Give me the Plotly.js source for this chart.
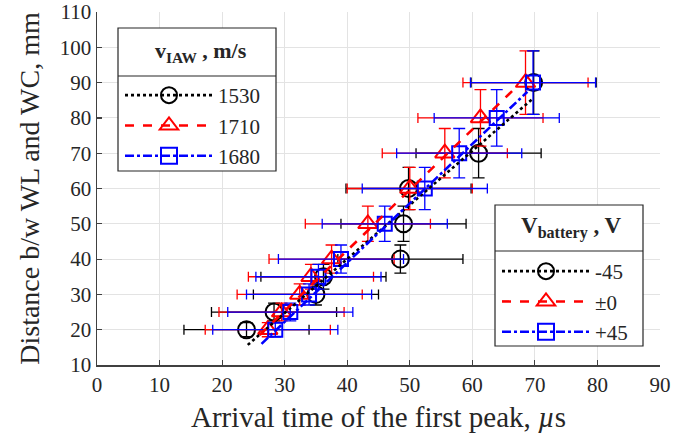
<!DOCTYPE html>
<html>
<head>
<meta charset="utf-8">
<script src="https://cdn.plot.ly/plotly-3.0.1.min.js"></script>
<style>html,body{margin:0;padding:0;background:#fff;}#chart{width:678px;height:440px;}</style>
</head>
<body>
<div id="chart"></div>
<script>
// ---- data ----
const yBlack = [20, 25, 30, 35, 40, 50, 60, 70, 90];
const xBlack = [23.9, 28.3, 35.0, 36.2, 48.5, 49.0, 49.8, 61.0, 69.8];
const xErrBlack = [10, 10, 10, 10, 10, 10, 10, 10, 10];
const yErrBlack = [2, 2.5, 3, 3.5, 4, 5, 6, 7, 9];

const yRed = [20, 25, 30, 35, 40, 50, 60, 70, 80, 90];
const xRed = [27.3, 29.5, 32.4, 34.2, 37.5, 43.3, 50.0, 55.6, 61.3, 68.5];
const xErrRed = [10, 10, 10, 10, 10, 10, 10, 10, 10, 10];
const yErrRed = [2, 2.5, 3, 3.5, 4, 5, 6, 7, 8, 9];

const yBlue = [20, 25, 30, 35, 40, 50, 60, 70, 80, 90];
const xBlue = [28.5, 30.9, 33.9, 35.4, 39.0, 46.0, 52.4, 57.9, 63.9, 69.7];
const xErrBlue = [10, 10, 10, 10, 10, 10, 10, 10, 10, 10];
const yErrBlue = [2, 2.5, 3, 3.5, 4, 5, 6, 7, 8, 9];

// fitted lines (end points)
const fitBlackX = [24.1, 69.7], fitBlackY = [15.7, 85.5];
const fitRedX = [26.0, 67.3], fitRedY = [18.5, 89.2];
const fitBlueX = [26.3, 68.8], fitBlueY = [16.0, 87.4];

const speedLabels = ['1530', '1710', '1680'];
const voltLabels = ['-45', '\u00b10', '+45'];

const xTicks = [0, 10, 20, 30, 40, 50, 60, 70, 80, 90];
const yTicks = [10, 20, 30, 40, 50, 60, 70, 80, 90, 100, 110];

// ---- styles ----
const FONT = 'Liberation Serif';
const BLK = '#000000', RED = '#ff0000', BLU = '#0000ff';
const series = [
  {x: xBlack, y: yBlack, ex: xErrBlack, ey: yErrBlack, c: BLK, sym: 'circle-open', size: 17, dash: 'dot', fx: fitBlackX, fy: fitBlackY},
  {x: xRed, y: yRed, ex: xErrRed, ey: yErrRed, c: RED, sym: 'triangle-up-open', size: 17, dash: 'dash', fx: fitRedX, fy: fitRedY},
  {x: xBlue, y: yBlue, ex: xErrBlue, ey: yErrBlue, c: BLU, sym: 'square-open', size: 14, dash: 'dashdot', fx: fitBlueX, fy: fitBlueY}
];

const traces = [];
series.forEach(s => {
  traces.push({
    type: 'scatter', mode: 'markers', x: s.x, y: s.y, showlegend: false, hoverinfo: 'skip',
    marker: {symbol: s.sym, size: s.size, color: s.c, line: {color: s.c, width: 2}},
    error_x: {type: 'data', array: s.ex, color: s.c, thickness: 1.3, width: 5},
    error_y: {type: 'data', array: s.ey, color: s.c, thickness: 1.3, width: 6}
  });
});
series.forEach(s => {
  traces.push({
    type: 'scatter', mode: 'lines', x: s.fx, y: s.fy, showlegend: false, hoverinfo: 'skip',
    line: {color: s.c, width: 2.6, dash: s.dash}
  });
});
// legend entries
series.forEach((s, i) => {
  traces.push({
    type: 'scatter', mode: 'lines+markers', x: [null], y: [null], name: speedLabels[i], legend: 'legend',
    marker: {symbol: s.sym, size: s.size + 6, color: s.c, line: {color: s.c, width: 2}},
    line: {color: s.c, width: 2.6, dash: s.dash}
  });
});
series.forEach((s, i) => {
  traces.push({
    type: 'scatter', mode: 'lines+markers', x: [null], y: [null], name: voltLabels[i], legend: 'legend2',
    marker: {symbol: s.sym, size: s.size + 6, color: s.c, line: {color: s.c, width: 2}},
    line: {color: s.c, width: 2.6, dash: s.dash}
  });
});

// plot area: left 97, right 660, top 12, bottom 365
const L = 97, R = 660, T = 12, B = 365, W = 678, H = 440;
const px = v => (v - L) / (R - L);
const py = v => (B - v) / (B - T);

const layout = {
  width: W, height: H,
  margin: {l: L, r: W - R, t: T, b: H - B},
  paper_bgcolor: '#fff', plot_bgcolor: '#fff',
  font: {family: FONT, color: '#262626'},
  xaxis: {
    range: [0, 90], tickvals: xTicks, ticktext: xTicks.map(String),
    ticks: 'inside', ticklen: 5, tickwidth: 1.2, tickcolor: '#404040',
    showline: true, linecolor: '#404040', linewidth: 1.5, mirror: false,
    showgrid: true, gridcolor: '#e3e3e3', gridwidth: 1, zeroline: false,
    tickfont: {family: FONT, size: 21, color: '#262626'},
    title: {text: 'Arrival time of the first peak, <i>\u00b5</i>s', font: {family: FONT, size: 29, color: '#262626'}, standoff: 11}
  },
  yaxis: {
    range: [10, 110], tickvals: yTicks, ticktext: yTicks.map(String),
    ticks: 'inside', ticklen: 5, tickwidth: 1.2, tickcolor: '#404040',
    showline: true, linecolor: '#404040', linewidth: 1.5, mirror: false,
    showgrid: true, gridcolor: '#e3e3e3', gridwidth: 1, zeroline: false,
    tickfont: {family: FONT, size: 21, color: '#262626'},
    title: {text: 'Distance b/w WL and WC, mm', font: {family: FONT, size: 28, color: '#262626'}, standoff: 12}
  },
  legend: {
    bgcolor: 'rgba(0,0,0,0)', borderwidth: 0, itemwidth: 88, tracegroupgap: 0,
    font: {family: FONT, size: 21, color: '#262626'}, xanchor: 'left', yanchor: 'top',
    x: px(120), y: py(75)
  },
  legend2: {
    bgcolor: 'rgba(0,0,0,0)', borderwidth: 0, itemwidth: 88, tracegroupgap: 0,
    font: {family: FONT, size: 21, color: '#262626'}, xanchor: 'left', yanchor: 'top',
    x: px(497), y: py(251)
  },
  shapes: [
    {type: 'rect', xref: 'paper', yref: 'paper', x0: px(118), x1: px(276), y0: py(171), y1: py(28), fillcolor: '#fff', line: {color: '#262626', width: 1.2}, layer: 'above'},
    {type: 'line', xref: 'paper', yref: 'paper', x0: px(118), x1: px(276), y0: py(76), y1: py(76), line: {color: '#262626', width: 1.2}, layer: 'above'},
    {type: 'rect', xref: 'paper', yref: 'paper', x0: px(495), x1: px(643), y0: py(346), y1: py(205), fillcolor: '#fff', line: {color: '#262626', width: 1.2}, layer: 'above'},
    {type: 'line', xref: 'paper', yref: 'paper', x0: px(495), x1: px(643), y0: py(251), y1: py(251), line: {color: '#262626', width: 1.2}, layer: 'above'}
  ],
  annotations: [
    {xref: 'paper', yref: 'paper', x: px(201), y: py(52), xanchor: 'center', yanchor: 'middle', showarrow: false,
     text: '<b>v<sub>IAW</sub> , m/s</b>', font: {family: FONT, size: 22, color: '#262626'}},
    {xref: 'paper', yref: 'paper', x: px(571), y: py(228), xanchor: 'center', yanchor: 'middle', showarrow: false,
     text: '<b>V<sub>battery</sub> , V</b>', font: {family: FONT, size: 23, color: '#262626'}}
  ]
};

Plotly.newPlot('chart', traces, layout, {staticPlot: true, displayModeBar: false});
</script>
</body>
</html>
